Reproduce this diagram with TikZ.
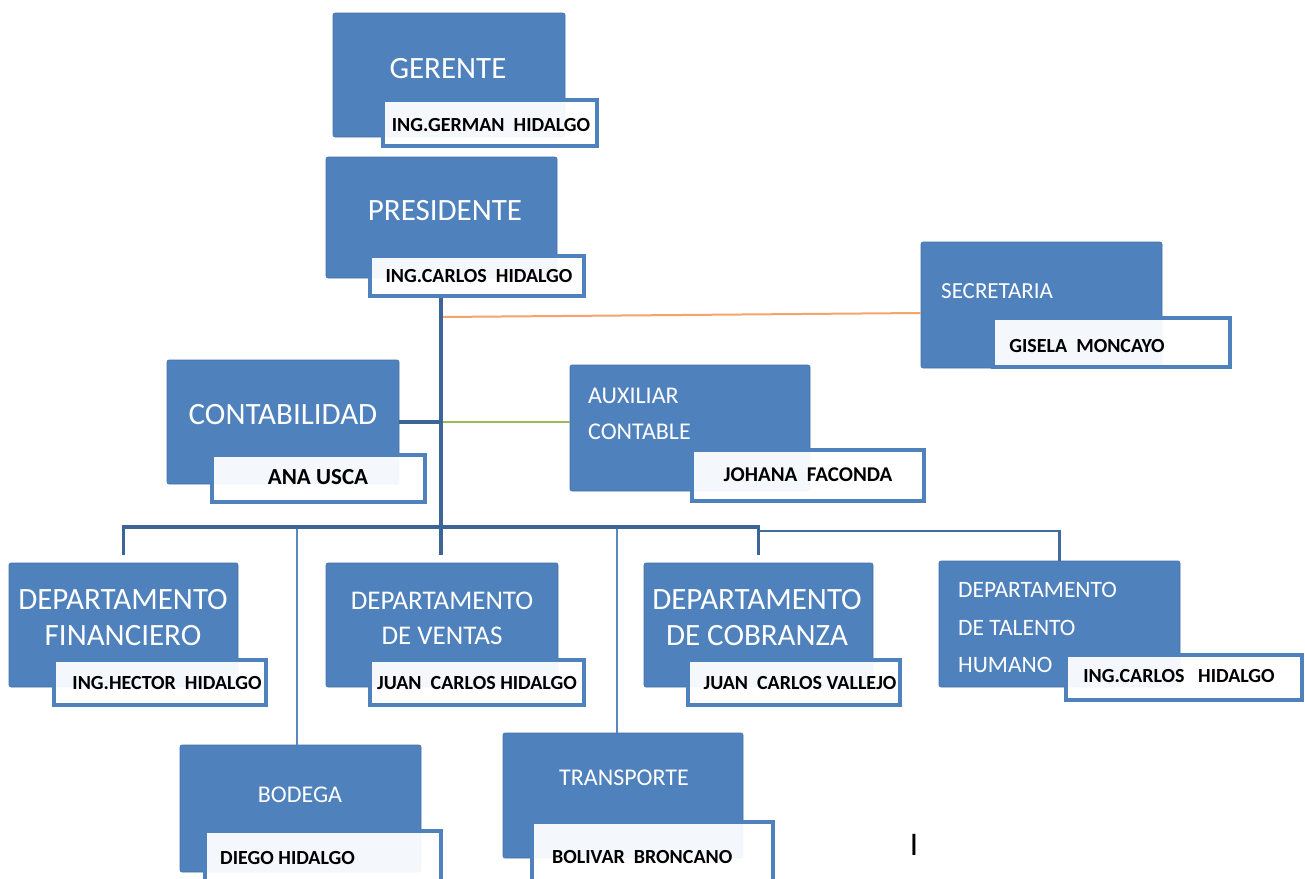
\documentclass[tikz,border=0pt]{standalone}
\usepackage{fontspec}
\setmainfont{Carlito}
\usetikzlibrary{calc}
\definecolor{boxblue}{HTML}{4F81BD}
\definecolor{trunkblue}{HTML}{3D6497}
\definecolor{branchblue}{HTML}{5A87C0}
\definecolor{lineorange}{HTML}{F5A46A}
\definecolor{linegreen}{HTML}{9BBB59}
\begin{document}
\begin{tikzpicture}[x=1pt,y=-1pt,
  bluebox/.style={draw=boxblue!88!black, line width=0.6pt, fill=boxblue, rounded corners=2pt, inner sep=0pt},
  namebox/.style={draw=boxblue, line width=3.2pt, fill=white, fill opacity=0.94, inner sep=0pt},
  titletext/.style={text=white, inner sep=0pt},
  nametext/.style={text=black, inner sep=0pt, font=\bfseries\fontsize{20}{24}\selectfont},
  trunk/.style={draw=trunkblue, line width=3.4pt},
  branch/.style={draw=branchblue, line width=1.6pt},
  midline/.style={draw=trunkblue!80!boxblue, line width=2.6pt},
  orangeline/.style={draw=lineorange, line width=2pt},
  greenline/.style={draw=linegreen, line width=1.8pt}
]
\useasboundingbox (0,0) rectangle (1305,878);
\fill[white] (0,0) rectangle (1305,878);
\clip (0,0) rectangle (1305,878);

% blue boxes
\node[bluebox, minimum width=232pt, minimum height=124pt] (ger) at (449,75) {};
\node[bluebox, minimum width=231pt, minimum height=121pt] (pre) at (441.5,217.5) {};
\node[bluebox, minimum width=241pt, minimum height=126pt] (sec) at (1041.5,305) {};
\node[bluebox, minimum width=232pt, minimum height=124pt] (con) at (283,422) {};
\node[bluebox, minimum width=240pt, minimum height=126pt] (aux) at (690,428) {};
\node[bluebox, minimum width=229pt, minimum height=124pt] (fin) at (123.5,625) {};
\node[bluebox, minimum width=232pt, minimum height=124pt] (ven) at (442,625) {};
\node[bluebox, minimum width=229pt, minimum height=124pt] (cob) at (758.5,625) {};
\node[bluebox, minimum width=241pt, minimum height=126pt] (tal) at (1059.5,624) {};
\node[bluebox, minimum width=241pt, minimum height=127pt] (bod) at (300.5,808.5) {};
\node[bluebox, minimum width=240pt, minimum height=125pt] (tra) at (623,795.5) {};

% name boxes
\node[namebox, minimum width=214pt, minimum height=46pt] (ger-n) at (490,123) {};
\node[namebox, minimum width=214pt, minimum height=40pt] (pre-n) at (477,276) {};
\node[namebox, minimum width=237pt, minimum height=49pt] (sec-n) at (1111.5,342.5) {};
\node[namebox, minimum width=213pt, minimum height=47pt] (con-n) at (318.5,478.5) {};
\node[namebox, minimum width=232pt, minimum height=51pt] (aux-n) at (808,475.5) {};
\node[namebox, minimum width=212pt, minimum height=45pt] (fin-n) at (160,682.5) {};
\node[namebox, minimum width=214pt, minimum height=45pt] (ven-n) at (477,682.5) {};
\node[namebox, minimum width=212pt, minimum height=45pt] (cob-n) at (794,682.5) {};
\node[namebox, minimum width=236pt, minimum height=45pt] (tal-n) at (1184,677.5) {};
\node[namebox, minimum width=236pt, minimum height=54pt] (bod-n) at (323,858) {};
\node[namebox, minimum width=241pt, minimum height=63pt] (tra-n) at (652.5,853.5) {};

% connectors
\coordinate (bus) at (441,527);
\coordinate (sj) at (441,317);
\coordinate (tj) at (760,531);
\coordinate (bj) at (297,527);
\coordinate (rj) at (617,527);
\draw[orangeline] (sj) -- ([yshift=-8pt]sec.west);
\draw[greenline] (con.east -| bus) -- (aux.west |- con.east);
\draw[trunk] (con.east) -- (con.east -| bus);
\draw[branch] (bj) -- (bj |- bod.north);
\draw[branch] (rj) -- (rj |- tra.north);
\draw[midline] (tj) -| (tal.north);
\draw[trunk] (pre-n.south -| bus) -- (bus);
\draw[trunk] ([yshift=8pt]fin.north) |- (bus) -| ([yshift=8pt]cob.north);
\draw[trunk] (bus) -- ([yshift=8pt]ven.north -| bus);

% titles
\node[titletext, font=\fontsize{31}{36}\selectfont] (ger-t) at (448,69) {GERENTE};
\node[titletext, font=\fontsize{31}{36}\selectfont] (pre-t) at (445,211) {PRESIDENTE};
\node[titletext, font=\fontsize{23}{36}\selectfont, anchor=west] (sec-t) at (941,291) {SECRETARIA};
\node[titletext, font=\fontsize{31}{36}\selectfont] (con-t) at (283,415) {CONTABILIDAD};
\node[titletext, font=\fontsize{24}{36}\selectfont, anchor=west, align=left] (aux-t) at (588,414) {AUXILIAR\\CONTABLE};
\node[titletext, font=\fontsize{31}{36}\selectfont, align=center] (fin-t) at (123,618) {DEPARTAMENTO\\FINANCIERO};
\node[titletext, font=\fontsize{27}{35}\selectfont, align=center] (ven-t) at (442,618.5) {DEPARTAMENTO\\DE VENTAS};
\node[titletext, font=\fontsize{31}{36}\selectfont, align=center] (cob-t) at (757,618) {DEPARTAMENTO\\DE COBRANZA};
\node[titletext, font=\fontsize{23.5}{37.5}\selectfont, anchor=west, align=left] (tal-t) at (958,627.5) {DEPARTAMENTO\\DE TALENTO\\HUMANO};
\node[titletext, font=\fontsize{24}{30}\selectfont] (bod-t) at (300,795) {BODEGA};
\node[titletext, font=\fontsize{24}{30}\selectfont] (tra-t) at (624,778) {TRANSPORTE};

% names
\node[nametext] (ger-p) at (491,125) {ING.GERMAN~~HIDALGO};
\node[nametext] (pre-p) at (479,276) {ING.CARLOS~~HIDALGO};
\node[nametext] (sec-p) at (1087,346) {GISELA~~MONCAYO};
\node[nametext, font=\bfseries\fontsize{23}{26}\selectfont] (con-p) at (318,477) {ANA USCA};
\node[nametext, font=\bfseries\fontsize{21}{24}\selectfont] (aux-p) at (808,475) {JOHANA~~FACONDA};
\node[nametext] (fin-p) at (167,683) {ING.HECTOR~~HIDALGO};
\node[nametext] (ven-p) at (477,683) {JUAN~~CARLOS HIDALGO};
\node[nametext] (cob-p) at (800,683) {JUAN~~CARLOS VALLEJO};
\node[nametext] (tal-p) at (1179,676) {ING.CARLOS~~~HIDALGO};
\node[nametext, anchor=west] (bod-p) at (220,858) {DIEGO HIDALGO};
\node[nametext, anchor=west] (tra-p) at (552,857) {BOLIVAR~~BRONCANO};

\node[text=black, inner sep=0pt, font=\fontsize{33}{36}\selectfont] (cursor) at (914,845) {I};
\end{tikzpicture}
\end{document}
